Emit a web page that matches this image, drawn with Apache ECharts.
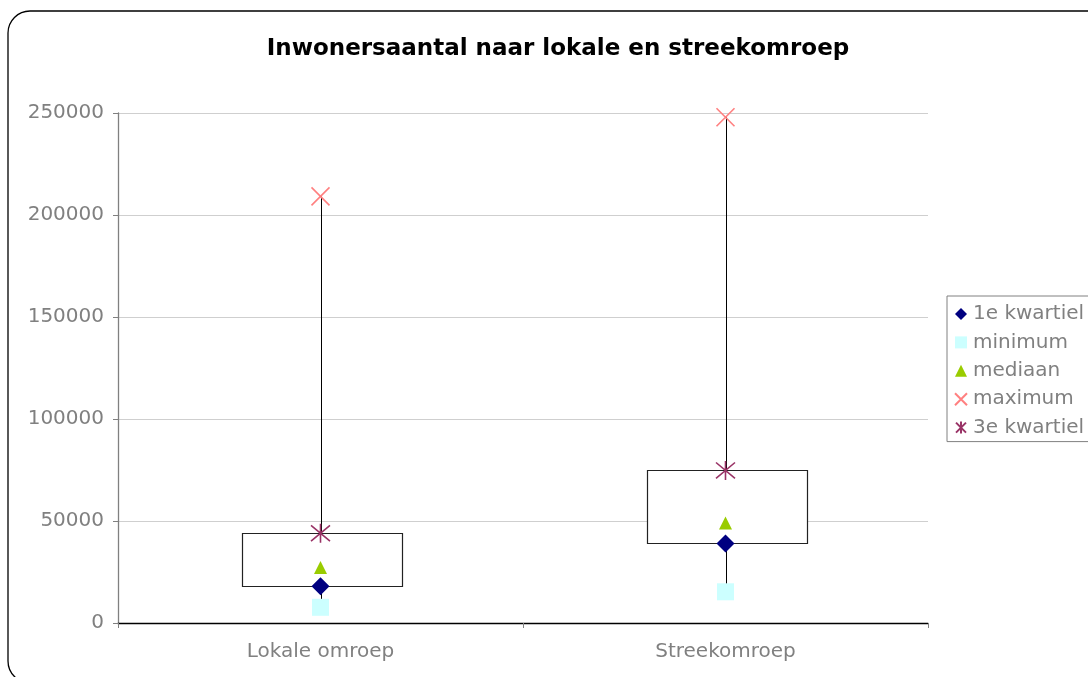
<!DOCTYPE html>
<html>
<head>
<meta charset="utf-8">
<script src="https://cdn.jsdelivr.net/npm/echarts@6/dist/echarts.min.js"></script>
<style>
html,body{margin:0;padding:0;background:#fff;}
#c{width:1088px;height:677px;}
</style>
</head>
<body>
<div id="c"></div>
<script>
var categories = ['Lokale omroep', 'Streekomroep'];
var kwartiel1 = [18000, 39000];
var minimum = [7700, 15300];
var mediaan = [27200, 49000];
var maximum = [209100, 247900];
var kwartiel3 = [44000, 74800];
var yTicks = { min: 0, max: 250000, interval: 50000 };

var chart = echarts.init(document.getElementById('c'));
var font = 'DejaVu Sans, Verdana, sans-serif';
var boxData = categories.map(function (c, i) {
  return [i, minimum[i], kwartiel1[i], kwartiel3[i], maximum[i]];
});
var X_PATH = 'path://M0,0L10,10M10,0L0,10';
var STAR_PATH = 'path://M0,0L10,10M10,0L0,10M5,-1L5,11';

function scatter(name, data, symbol, size, color, stroke) {
  return {
    name: name,
    type: 'scatter',
    data: data,
    symbol: symbol,
    symbolSize: size,
    z: 5,
    itemStyle: stroke ? { color: color, borderColor: color, borderWidth: 1.6, opacity: 1 } : { color: color, opacity: 1 },
    emphasis: { disabled: true }
  };
}

chart.setOption({
  animation: false,
  title: {
    text: 'Inwonersaantal naar lokale en streekomroep',
    left: 553, top: 33, textAlign: 'center',
    textStyle: { fontFamily: font, fontSize: 23, fontWeight: 'bold', color: '#000' }
  },
  graphic: [{
    type: 'rect', silent: true, z: -10,
    shape: { x: 8, y: 11, width: 1110, height: 672, r: 22 },
    style: { fill: 'none', stroke: '#000', lineWidth: 1.3 }
  }],
  legend: {
    orient: 'vertical',
    left: 947, top: 296,
    padding: [8, 30, 4, 7],
    itemGap: 8.4,
    itemWidth: 12, itemHeight: 12,
    borderColor: '#808080', borderWidth: 1,
    textStyle: { fontFamily: font, fontSize: 20, color: '#808080', padding: [0, 0, 0, 1] },
    data: ['1e kwartiel', 'minimum', 'mediaan', 'maximum', '3e kwartiel']
  },
  grid: { left: 118, right: 160, top: 113, bottom: 54 },
  xAxis: {
    type: 'category',
    data: categories,
    boundaryGap: true,
    axisLine: { lineStyle: { color: '#000', width: 1.3 } },
    axisTick: { show: true, length: 5, lineStyle: { color: '#808080' } },
    axisLabel: { fontFamily: font, fontSize: 20, color: '#808080', margin: 19 }
  },
  yAxis: {
    type: 'value',
    min: yTicks.min, max: yTicks.max, interval: yTicks.interval,
    axisLine: { show: true, lineStyle: { color: '#808080', width: 1.3 } },
    axisTick: { show: true, length: 5, lineStyle: { color: '#808080' } },
    axisLabel: { fontFamily: font, fontSize: 20, color: '#808080', margin: 14,
      formatter: function (v) { return String(v); } },
    splitLine: { lineStyle: { color: '#cfcfcf', width: 1 } }
  },
  series: [
    {
      type: 'custom',
      name: 'box',
      z: 2,
      silent: true,
      data: boxData,
      encode: { x: 0, y: [1, 2, 3, 4] },
      renderItem: function (params, api) {
        var x = api.value(0);
        var pMin = api.coord([x, api.value(1)]);
        var pQ1 = api.coord([x, api.value(2)]);
        var pQ3 = api.coord([x, api.value(3)]);
        var pMax = api.coord([x, api.value(4)]);
        var w = api.size([1, 0])[0] * 0.395;
        var cx = Math.round(pMin[0]) + 0.5;
        return {
          type: 'group',
          children: [
            { type: 'line', shape: { x1: cx, y1: pMin[1], x2: cx, y2: pMax[1] },
              style: { stroke: '#000', lineWidth: 1 } },
            { type: 'rect', shape: { x: Math.round(cx - w / 2) + 0.5, y: Math.round(pQ3[1]) + 0.5, width: Math.round(w), height: Math.round(pQ1[1] - pQ3[1]) },
              style: { fill: '#fff', stroke: '#222', lineWidth: 1.2 } }
          ]
        };
      }
    },
    scatter('1e kwartiel', kwartiel1, 'diamond', 18, '#000080'),
    scatter('minimum', minimum, 'rect', 17, '#CCFFFF'),
    scatter('mediaan', mediaan, 'triangle', 13, '#99CC00'),
    scatter('maximum', maximum, X_PATH, 18, '#FF8080', true),
    scatter('3e kwartiel', kwartiel3, STAR_PATH, 19, '#993366', true)
  ]
});
</script>
</body>
</html>
